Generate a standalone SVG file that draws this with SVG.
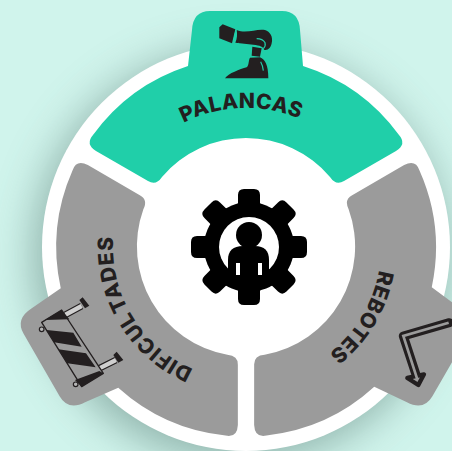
<svg xmlns="http://www.w3.org/2000/svg" width="452" height="451" viewBox="0 0 452 451">
<defs>
<style>
.lbl{font-family:Inter,"Liberation Sans",Arial,sans-serif;font-weight:800;font-size:21px;fill:#231f20;text-anchor:middle}
.ink{fill:#231f20}
</style>
<filter id="sh" x="-30%" y="-30%" width="160%" height="160%"><feGaussianBlur stdDeviation="22"/></filter>
<path id="seg" d="M96 151L148 181Q156 186 162 177A110 110 0 0 1 330 177Q336 186 344 181L396 151Q407 144 399 135A190 190 0 0 0 303 66L300 30Q299 11 282 11L210 11Q193 11 192 30L188 66A190 190 0 0 0 93 135Q85 144 96 151Z"/>
<path id="arc" d="M107 247A139 139 0 0 1 385 247"/>
<path id="arcb" d="M111 247A135 135 0 0 1 381 247"/>
<path id="arcd" d="M113 247A133 133 0 0 1 379 247"/>
<path id="tooth" d="M-14 -36L-11 -44V-52Q-11 -58 -5 -58H5Q11 -58 11 -52V-44L14 -36Z"/>
</defs>
<rect width="452" height="451" fill="#d0f4ec"/>
<circle cx="240" cy="256" r="206" fill="#4d7068" opacity=".5" filter="url(#sh)"/>
<circle cx="246" cy="247" r="204" fill="#fff"/>
<g id="palancas">
<use href="#seg" fill="#20cfa9"/>
<g transform="translate(210,10) scale(.3333)">
<path class="ink" d="M28 52L38 43L76 58L66 100L28 85Z"/>
<path class="ink" d="M80 60C110 72 140 55 165 60C180 65 190 80 185 100C183 112 175 122 163 120C160 110 150 106 130 104L76 98C82 85 82 72 80 60Z"/>
<path class="ink" d="M127 110L155 115L150 140L125 137Z"/>
<path class="ink" d="M45 205C55 190 90 178 110 172C118 165 115 150 120 143L150 142C165 148 175 165 175 205Z"/>
<path d="M140 86Q158 86 165 98Q168 108 160 116M152 155Q159 168 160 182" fill="none" stroke="#20cfa9" stroke-width="3.5"/>
<path d="M78 60Q72 85 70 98Q76 104 86 100" fill="none" stroke="#20cfa9" stroke-width="3"/>
</g>
<text class="lbl" transform="rotate(-2 246 247)" letter-spacing=".4"><textPath href="#arc" startOffset="50%">PALANCAS</textPath></text>
</g>
<g id="dificultades">
<use href="#seg" fill="#9b9b9b" transform="rotate(-120 246 247)"/>
<g transform="translate(30,290) scale(.3333)">
<path d="M105 75L155 48M208 235L258 210" stroke="#231f20" stroke-width="20" fill="none"/>
<path d="M105 75L155 48M208 235L258 210" stroke="#cfcfcf" stroke-width="13" fill="none"/>
<path class="ink" d="M148 30L158 22L178 47L165 55ZM250 195L260 185L280 210L265 218Z"/>
<path d="M35 97L95 60L220 250L155 290Z" fill="#9b9b9b" stroke="#231f20" stroke-width="4" stroke-linejoin="round"/>
<path class="ink" d="M45 90L95 60L118 88ZM50 120L130 128L155 170L72 157ZM85 178L168 190L197 232L112 220ZM135 270L208 243L220 250L155 290Z"/>
<circle cx="35" cy="118" r="7" fill="#b5b5b5" stroke="#231f20" stroke-width="3.5"/>
<circle cx="137" cy="283" r="7" fill="#b5b5b5" stroke="#231f20" stroke-width="3.5"/>
</g>
<text class="lbl" transform="rotate(239 246 247)" letter-spacing=".9"><textPath href="#arcd" startOffset="50%">DIFICUL<tspan dx="4">TADES</tspan></textPath></text>
</g>
<g id="rebotes">
<use href="#seg" fill="#9b9b9b" transform="rotate(120 246 247)"/>
<g transform="translate(320,260) scale(.3333)">
<path d="M388 188L250 228L290 350" fill="none" stroke="#231f20" stroke-width="27" stroke-linejoin="round" stroke-linecap="round"/>
<path d="M262 354L295 375L312 343Z" fill="#9b9b9b" stroke="#231f20" stroke-width="13" stroke-linejoin="round"/>
<path d="M386 188L250 228L292 358" fill="none" stroke="#9b9b9b" stroke-width="8" stroke-linejoin="miter"/>
</g>
<text class="lbl" transform="rotate(121 246 247)" letter-spacing=".4"><textPath href="#arcb" startOffset="50%">REBOTES</textPath></text>
</g>
<g id="centro">
<circle cx="249" cy="247" r="45" fill="#000"/>
<g fill="#000">
<use href="#tooth" transform="translate(249,247)"/>
<use href="#tooth" transform="translate(249,247) rotate(45)"/>
<use href="#tooth" transform="translate(249,247) rotate(90)"/>
<use href="#tooth" transform="translate(249,247) rotate(135)"/>
<use href="#tooth" transform="translate(249,247) rotate(180)"/>
<use href="#tooth" transform="translate(249,247) rotate(225)"/>
<use href="#tooth" transform="translate(249,247) rotate(270)"/>
<use href="#tooth" transform="translate(249,247) rotate(315)"/>
</g>
<circle cx="249" cy="247" r="30" fill="#fff"/>
<circle cx="249" cy="235" r="13" fill="#000"/>
<path d="M228 282L228 260Q228 246 243 246L255 246Q269 246 269 260L269 282Z" fill="#000"/>
<path d="M236 263h4v12h-4zM258 263h4v12h-4z" fill="#fff"/>
</g>
</svg>
